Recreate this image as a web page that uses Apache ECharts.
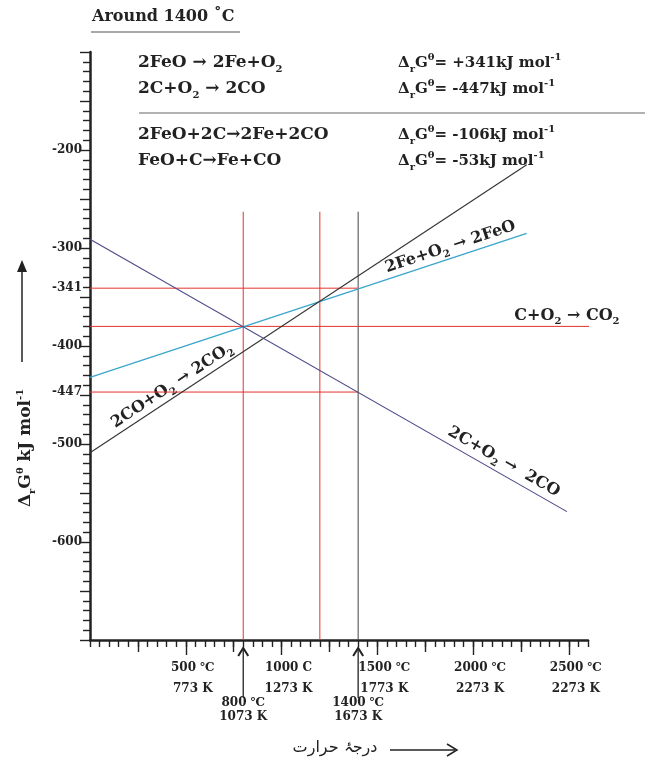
<!DOCTYPE html>
<html><head><meta charset="utf-8">
<script src="https://cdn.jsdelivr.net/npm/echarts@6/dist/echarts.min.js"></script>
<style>html,body{margin:0;padding:0;background:#fff}#c{width:651px;height:769px}</style>
</head><body><div id="c"></div>
<script>
// ---- data ----
const feoLine = [[0, -432], [2280, -285]];     // 2Fe+O2 -> 2FeO
const co2Line = [[0, -509], [2280, -215]];     // 2CO+O2 -> 2CO2
const coLine  = [[0, -291], [2490, -569]];     // 2C+O2 -> 2CO
const cco2Level = -380;                         // C+O2 -> CO2
const cco2Span = [0, 2885];
const guideLevels = [-341, -447];               // red horizontals up to 1400 C
const guideLevelEnd = 1400;
const redVerticals = [800, 1200];
const blackVerticals = [1400];
const verticalTop = -263;
const yMin = -700, yMax = -100;
const xMin = 0, xMax = 2600;
const yTickValues = [-200, -300, -341, -400, -447, -500, -600];
const xTickValues = [500, 1000, 1500, 2000, 2500];
const xTickC = ['500 ℃', '1000 C', '1500 ℃', '2000 ℃', '2500 ℃'];
const xTickK = ['773 K', '1273 K', '1773 K', '2273 K', '2273 K'];
const arrowTemps = [800, 1400];
const arrowC = ['800 ℃', '1400 ℃'];
const arrowK = ['1073 K', '1673 K'];
const eqLeft = ['2FeO → 2Fe+O{b|2}', '2C+O{b|2} → 2CO', '2FeO+2C→2Fe+2CO', 'FeO+C→Fe+CO'];
const eqDG = ['+341', '-447', '-106', '-53'];
const lineLabels = ['2Fe+O{b|2} → 2FeO', '2CO+O{b|2} → 2CO{b|2}', '2C+O{b|2} →  2CO', 'C+O{b|2} → CO{b|2}'];

const SERIF = 'DejaVu Serif';
const INK = '#222';
const RED = '#e3342c';

const series = [];
function lineSeries(data, color, width) {
  series.push({type: 'line', data: data, symbol: 'none', silent: true, clip: false,
    xAxisIndex: 0, yAxisIndex: 0, animation: false,
    lineStyle: {color: color, width: width}});
}
redVerticals.forEach(t => lineSeries([[t, verticalTop], [t, yMin]], RED, 1));
blackVerticals.forEach(t => lineSeries([[t, verticalTop], [t, yMin]], '#444', 1));
guideLevels.forEach(v => lineSeries([[0, v], [guideLevelEnd, v]], RED, 1));
lineSeries([[cco2Span[0], cco2Level], [cco2Span[1], cco2Level]], RED, 1);
lineSeries(feoLine, '#3aa5cc', 1.3);
lineSeries(co2Line, '#333', 1.1);
lineSeries(coLine, '#4a4888', 1.1);

const tickLine = {color: INK, width: 1.4};
const option = {
  backgroundColor: '#fff',
  animation: false,
  grid: {left: 90, top: 52, width: 498, height: 588, containLabel: false, outerBoundsMode: 'none'},
  xAxis: [
    {type: 'value', min: xMin, max: xMax, interval: 50, position: 'bottom',
     axisLine: {show: true, onZero: false, lineStyle: {color: INK, width: 2.5}},
     axisTick: {show: true, length: 7, lineStyle: tickLine},
     axisLabel: {show: false}, splitLine: {show: false}},
    {type: 'value', min: xMin, max: xMax, position: 'bottom',
     axisLine: {show: false, onZero: false},
     axisTick: {show: true, length: 12, lineStyle: tickLine, customValues: [250, 750, 1250, 1750, 2250]},
     axisLabel: {show: false}, splitLine: {show: false}},
    {type: 'value', min: xMin, max: xMax, position: 'bottom',
     axisLine: {show: false, onZero: false},
     axisTick: {show: true, length: 15, lineStyle: tickLine, customValues: xTickValues},
     axisLabel: {show: true, customValues: xTickValues, margin: 17,
       fontFamily: SERIF, fontSize: 12, fontWeight: 'bold', color: INK, lineHeight: 21,
       padding: [0, 0, 0, 14],
       formatter: v => { const i = xTickValues.indexOf(v); return i < 0 ? '' : xTickC[i] + '\n' + xTickK[i]; }},
     splitLine: {show: false}}
  ],
  yAxis: {type: 'value', min: yMin, max: yMax, interval: 50,
    axisLine: {show: true, onZero: false, lineStyle: {color: INK, width: 2.5}},
    axisTick: {show: true, length: 10, lineStyle: tickLine},
    minorTick: {show: true, splitNumber: 5, length: 7, lineStyle: tickLine},
    splitLine: {show: false}, minorSplitLine: {show: false},
    axisLabel: {customValues: yTickValues, margin: 8, fontFamily: SERIF, fontSize: 12,
      fontWeight: 'bold', color: INK, formatter: v => String(v)}},
  series: series
};

const chart = echarts.init(document.getElementById('c'), null, {renderer: 'canvas'});
chart.setOption(option);

const px = (t, v) => chart.convertToPixel({seriesIndex: 0}, [t, v]);
const richSS = {
  b: {fontFamily: SERIF, fontSize: 10, fontWeight: 'bold', color: INK, verticalAlign: 'bottom', lineHeight: 11},
  t: {fontFamily: SERIF, fontSize: 10, fontWeight: 'bold', color: INK, verticalAlign: 'top', lineHeight: 11}
};
function txt(text, x, y, opt) {
  opt = opt || {};
  return {type: 'text', x: x, y: y, rotation: opt.rot || 0, silent: true,
    style: {text: text, fontFamily: opt.font || SERIF, fontSize: opt.size || 16,
      fontWeight: opt.weight || 'bold', fill: INK, lineHeight: opt.lh || 22,
      align: opt.align || 'left', verticalAlign: opt.va || 'middle', rich: richSS}};
}
const g = [];
// title
g.push(txt('Around 1400 ˚C', 92, 17, {size: 16}));
g.push({type: 'line', silent: true, shape: {x1: 91, y1: 32, x2: 240, y2: 32}, style: {stroke: '#555', lineWidth: 1.2}});
// equations
const eqY = [63, 89, 135, 161];
eqLeft.forEach((s, i) => {
  g.push(txt(s, 138, eqY[i], {size: 17}));
  g.push(txt('Δ{b|r}G{t|θ}= ' + eqDG[i] + 'kJ mol{t|-1}', 398, eqY[i], {size: 15}));
});
g.push({type: 'line', silent: true, shape: {x1: 139, y1: 113, x2: 645, y2: 113}, style: {stroke: '#666', lineWidth: 1.2}});

// line labels along lines
function along(line, t, off, text) {
  const p1 = px(line[0][0], line[0][1]), p2 = px(line[1][0], line[1][1]);
  const a = Math.atan2(p1[1] - p2[1], p2[0] - p1[0]);
  const f = (t - line[0][0]) / (line[1][0] - line[0][0]);
  const v = line[0][1] + f * (line[1][1] - line[0][1]);
  const p = px(t, v);
  return txt(text, p[0] - off * Math.sin(a), p[1] - off * Math.cos(a),
    {rot: a, align: 'center', va: 'middle', size: 16});
}
g.push(along(feoLine, 1900, 11, lineLabels[0]));
g.push(along(co2Line, 460, 11, lineLabels[1]));
g.push(along(coLine, 2130, 12, lineLabels[2]));
g.push(along([[cco2Span[0], cco2Level], [cco2Span[1], cco2Level]], 2490, 11, lineLabels[3]));

// arrows and labels under the x axis at 800 and 1400
arrowTemps.forEach((t, i) => {
  const p = px(t, yMin);
  const x = p[0], y0 = p[1];
  g.push({type: 'line', silent: true, shape: {x1: x, y1: y0 + 9, x2: x, y2: y0 + 58}, style: {stroke: INK, lineWidth: 1.3}});
  g.push({type: 'polyline', silent: true, shape: {points: [[x - 5, y0 + 16], [x, y0 + 8], [x + 5, y0 + 16]]}, style: {stroke: INK, lineWidth: 2, fill: null}});
  g.push(txt(arrowC[i] + '\n' + arrowK[i], x, y0 + 70, {size: 12, weight: 'bold', align: 'center', lh: 14}));
});

// y-axis name with arrow
g.push(txt('Δ{b|r}G{t|θ} kJ mol{t|-1}', 26, 448, {rot: Math.PI / 2, align: 'center', size: 17}));
g.push({type: 'line', silent: true, shape: {x1: 22, y1: 362, x2: 22, y2: 266}, style: {stroke: INK, lineWidth: 1.5}});
g.push({type: 'polygon', silent: true, shape: {points: [[17, 272], [22, 260], [27, 272]]}, style: {fill: INK}});

// x-axis name (Urdu) with arrow
g.push(txt('درجۂ حرارت', 335, 748, {font: 'DejaVu Sans', size: 16, align: 'center', weight: 'normal'}));
g.push({type: 'line', silent: true, shape: {x1: 390, y1: 750, x2: 455, y2: 750}, style: {stroke: INK, lineWidth: 1.5}});
g.push({type: 'polyline', silent: true, shape: {points: [[447, 744], [457, 750], [447, 756]]}, style: {stroke: INK, lineWidth: 1.5, fill: null}});

chart.setOption({graphic: {elements: g}});
</script>
</body></html>
